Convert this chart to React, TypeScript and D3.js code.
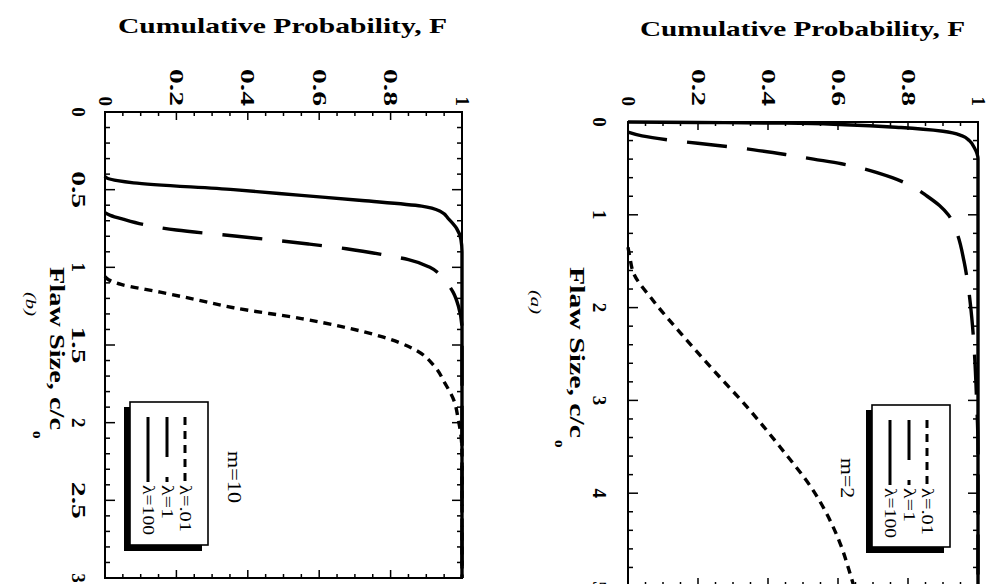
import React from "react";
import * as d3 from "d3";

// ---------- tick values / labels ----------
const F_TICK_VALUES = [0, 0.2, 0.4, 0.6, 0.8, 1];
const F_TICK_LABELS = ["0", "0.2", "0.4", "0.6", "0.8", "1"];
const SIZE_TICKS_B = [0, 0.5, 1, 1.5, 2, 2.5, 3];
const SIZE_LABELS_B = ["0", "0.5", "1", "1.5", "2", "2.5", "3"];
const SIZE_TICKS_A = [0, 1, 2, 3, 4, 5];
const SIZE_LABELS_A = ["0", "1", "2", "3", "4", "5"];
const LEGEND_LABELS = ["λ=.01", "λ=1", "λ=100"];
const Y_TITLE = "Cumulative Probability, F";
const X_TITLE = "Flaw Size, c/c";
const X_TITLE_SUB = "o";

// ---------- panel (b): m = 10 ----------
const B_C_L001 = [1.06, 1.08, 1.11, 1.16, 1.21, 1.26, 1.33, 1.38, 1.45, 1.52, 1.64, 1.745, 1.855, 1.985, 2.08, 2.2, 3.0];
const B_F_L001 = [0, 0.01, 0.045, 0.155, 0.26, 0.36, 0.55, 0.66, 0.78, 0.86, 0.924, 0.952, 0.977, 0.99, 0.997, 1, 1];
const B_C_L1 = [0.648, 0.665, 0.69, 0.724, 0.76, 0.8, 0.85, 0.88, 0.925, 0.95, 1.0, 1.05, 1.1, 1.16, 1.25, 1.4, 3.0];
const B_F_L1 = [0, 0.015, 0.05, 0.107, 0.2, 0.37, 0.57, 0.676, 0.794, 0.85, 0.91, 0.94, 0.958, 0.975, 0.99, 1, 1];
const B_C_L100 = [0.415, 0.428, 0.442, 0.456, 0.5, 0.537, 0.57, 0.606, 0.64, 0.69, 0.75, 0.82, 0.9, 3.0];
const B_F_L100 = [0, 0.008, 0.035, 0.08, 0.36, 0.55, 0.72, 0.887, 0.94, 0.963, 0.985, 0.997, 1, 1];

// ---------- panel (a): m = 2 ----------
const A_C_L001 = [1.35, 1.45, 1.63, 1.92, 2.27, 2.67, 3.07, 3.5, 3.97, 4.54, 4.86, 5.0];
const A_F_L001 = [0, 0.005, 0.016, 0.071, 0.149, 0.243, 0.34, 0.434, 0.529, 0.606, 0.634, 0.645];
const A_C_L1 = [0.11, 0.15, 0.2, 0.25, 0.3, 0.35, 0.4, 0.45, 0.5, 0.6, 0.7, 0.8, 0.9, 1.0, 1.2, 1.5, 1.8, 2.1, 2.5, 3.0, 3.5, 5.0];
const A_F_L1 = [0, 0.04, 0.13, 0.25, 0.36, 0.45, 0.53, 0.61, 0.67, 0.755, 0.815, 0.855, 0.89, 0.915, 0.94, 0.96, 0.973, 0.982, 0.99, 0.996, 1, 1];
const A_C_L100 = [0.0, 0.005, 0.012, 0.03, 0.06, 0.1, 0.15, 0.2, 0.28, 0.4, 5.0];
const A_F_L100 = [0, 0.2, 0.45, 0.62, 0.78, 0.9, 0.955, 0.975, 0.99, 1, 1];

const SERIF = "'Liberation Serif', 'Times New Roman', serif";
const DASHES = ["8,6", "40,20", ""];

type Cfg = {
  x0: number; x1: number; y0: number; y1: number;
  cMax: number; cMinor: number; cMajor: number;
  sizeTicks: number[]; sizeLabels: string[];
  curves: [number[], number[]][];
  titleX0: number; titleX1: number; titleY: number;
  sizeLabelX: number;
  xTitleX: number; xTitleY: number; xTitleLen: number;
  subX: number; subY: number;
  panelLabel: string; panelX: number; panelY: number;
  legX: number; legY: number; legW: number; legH: number;
  mLabel: string; mX: number; mY: number; mLen: number;
};

function Panel({ cfg }: { cfg: Cfg }) {
  const fx = d3.scaleLinear().domain([0, 1]).range([cfg.x0, cfg.x1]);
  const cy = d3.scaleLinear().domain([0, cfg.cMax]).range([cfg.y0, cfg.y1]);
  const line = d3
    .line<[number, number]>()
    .x((d) => fx(d[1]))
    .y((d) => cy(d[0]))
    .curve(d3.curveMonotoneY);

  const cTicks = d3.range(0, cfg.cMax + 1e-9, cfg.cMinor);
  const fTicks = d3.range(0, 1 + 1e-9, 0.05);
  const isMaj = (v: number, step: number) => Math.abs(v / step - Math.round(v / step)) < 1e-6;

  const legLen = [47, 34, 50];
  const entryOff = [55, 37, 18];

  return (
    <g>
      {/* curves */}
      {cfg.curves.map(([cs, fs], i) => (
        <path
          key={i}
          d={line(d3.zip(cs, fs) as [number, number][]) || ""}
          fill="none"
          stroke="#000"
          strokeWidth={3.4}
          strokeDasharray={DASHES[i] || undefined}
        />
      ))}
      {/* frame */}
      <rect x={cfg.x0} y={cfg.y0} width={cfg.x1 - cfg.x0} height={cfg.y1 - cfg.y0} fill="none" stroke="#000" strokeWidth={2} />
      {cTicks.map((v, i) => {
        const L = isMaj(v, cfg.cMajor) ? 10 : 5;
        const y = cy(v);
        return (
          <g key={"c" + i}>
            <line x1={cfg.x0} x2={cfg.x0 + L} y1={y} y2={y} stroke="#000" strokeWidth={1.5} />
            <line x1={cfg.x1} x2={cfg.x1 - L} y1={y} y2={y} stroke="#000" strokeWidth={1.5} />
          </g>
        );
      })}
      {fTicks.map((v, i) => {
        const L = isMaj(v, 0.2) ? 8 : 4;
        const x = fx(v);
        return (
          <g key={"f" + i}>
            <line x1={x} x2={x} y1={cfg.y0} y2={cfg.y0 + L} stroke="#000" strokeWidth={1.5} />
            <line x1={x} x2={x} y1={cfg.y1} y2={cfg.y1 - L} stroke="#000" strokeWidth={1.5} />
          </g>
        );
      })}
      {/* F tick labels */}
      {F_TICK_VALUES.map((v, i) => (
        <text
          key={"fl" + i}
          transform={`translate(${fx(v)},106) rotate(90)`}
          textAnchor="end"
          dominantBaseline="central"
          fontFamily={SERIF}
          fontWeight="bold"
          fontSize={19}
          textLength={F_TICK_LABELS[i].length > 1 ? 37 : undefined}
          lengthAdjust="spacingAndGlyphs"
        >
          {F_TICK_LABELS[i]}
        </text>
      ))}
      {/* size tick labels */}
      {cfg.sizeTicks.map((v, i) => (
        <text
          key={"sl" + i}
          transform={`translate(${cfg.sizeLabelX},${cy(v)}) rotate(90)`}
          textAnchor="middle"
          dominantBaseline="central"
          fontFamily={SERIF}
          fontWeight="bold"
          fontSize={19}
          textLength={cfg.sizeLabels[i].length > 1 ? 37 : undefined}
          lengthAdjust="spacingAndGlyphs"
        >
          {cfg.sizeLabels[i]}
        </text>
      ))}
      {/* titles */}
      <text
        x={cfg.titleX0}
        y={cfg.titleY}
        fontFamily={SERIF}
        fontWeight="bold"
        fontSize={22}
        textLength={cfg.titleX1 - cfg.titleX0}
        lengthAdjust="spacingAndGlyphs"
      >
        {Y_TITLE}
      </text>
      <text
        transform={`translate(${cfg.xTitleX},${cfg.xTitleY}) rotate(90)`}
        fontFamily={SERIF}
        fontWeight="bold"
        fontSize={20}
        textLength={cfg.xTitleLen}
        lengthAdjust="spacingAndGlyphs"
      >
        {X_TITLE}
      </text>
      <text
        transform={`translate(${cfg.subX},${cfg.subY}) rotate(90)`}
        fontFamily={SERIF}
        fontWeight="bold"
        fontSize={15}
      >
        {X_TITLE_SUB}
      </text>
      <text
        transform={`translate(${cfg.panelX},${cfg.panelY}) rotate(90)`}
        fontFamily={SERIF}
        fontStyle="italic"
        fontSize={15}
        textLength={24}
        lengthAdjust="spacingAndGlyphs"
      >
        {cfg.panelLabel}
      </text>
      {/* legend */}
      <rect x={cfg.legX - 6} y={cfg.legY + 5} width={cfg.legW} height={cfg.legH + 1} fill="#000" />
      <rect x={cfg.legX} y={cfg.legY} width={cfg.legW} height={cfg.legH} fill="#fff" stroke="#000" strokeWidth={1.6} />
      {LEGEND_LABELS.map((lab, i) => {
        const x = cfg.legX + entryOff[i];
        return (
          <g key={"lg" + i}>
            <line
              x1={x}
              x2={x}
              y1={cfg.legY + 15}
              y2={cfg.legY + 80}
              stroke="#000"
              strokeWidth={3}
              strokeDasharray={DASHES[i] || undefined}
            />
            <text
              transform={`translate(${x},${cfg.legY + 83}) rotate(90)`}
              dominantBaseline="central"
              fontFamily={SERIF}
              fontSize={16}
              textLength={legLen[i]}
              lengthAdjust="spacingAndGlyphs"
            >
              {lab}
            </text>
          </g>
        );
      })}
      <text
        transform={`translate(${cfg.mX},${cfg.mY}) rotate(90)`}
        textAnchor="middle"
        dominantBaseline="central"
        fontFamily={SERIF}
        fontSize={18}
        textLength={cfg.mLen}
        lengthAdjust="spacingAndGlyphs"
      >
        {cfg.mLabel}
      </text>
    </g>
  );
}

const CFG_B: Cfg = {
  x0: 105, x1: 462, y0: 112, y1: 578,
  cMax: 3, cMinor: 0.1, cMajor: 0.5,
  sizeTicks: SIZE_TICKS_B, sizeLabels: SIZE_LABELS_B,
  curves: [[B_C_L001, B_F_L001], [B_C_L1, B_F_L1], [B_C_L100, B_F_L100]],
  titleX0: 118, titleX1: 447, titleY: 33,
  sizeLabelX: 78,
  xTitleX: 50, xTitleY: 267, xTitleLen: 163,
  subX: 33, subY: 431,
  panelLabel: "(b)", panelX: 26, panelY: 292,
  legX: 130, legY: 402, legW: 78, legH: 143,
  mLabel: "m=10", mX: 234, mY: 477, mLen: 52,
};

const CFG_A: Cfg = {
  x0: 628, x1: 978, y0: 122, y1: 586,
  cMax: 5, cMinor: 0.2, cMajor: 1,
  sizeTicks: SIZE_TICKS_A, sizeLabels: SIZE_LABELS_A,
  curves: [[A_C_L001, A_F_L001], [A_C_L1, A_F_L1], [A_C_L100, A_F_L100]],
  titleX0: 640, titleX1: 965, titleY: 36,
  sizeLabelX: 599,
  xTitleX: 570, xTitleY: 267, xTitleLen: 171,
  subX: 555, subY: 440,
  panelLabel: "(a)", panelX: 531, panelY: 290,
  legX: 872, legY: 405, legW: 78, legH: 142,
  mLabel: "m=2", mX: 847, mY: 478, mLen: 40,
};

export default function App() {
  return (
    <svg
      width={989}
      height={584}
      viewBox="0 0 989 584"
      style={{ position: "fixed", left: 0, top: 0, background: "#fff" }}
    >
      <rect x={0} y={0} width={989} height={584} fill="#fff" />
      <Panel cfg={CFG_B} />
      <Panel cfg={CFG_A} />
    </svg>
  );
}
